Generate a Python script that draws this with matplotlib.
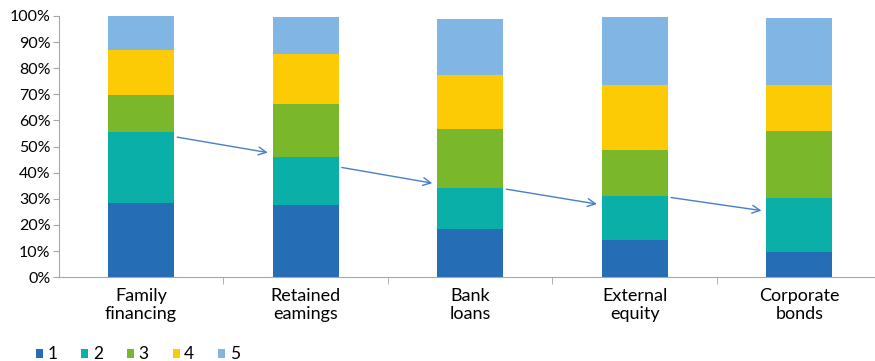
import matplotlib.pyplot as plt
import numpy as np

plt.rcParams['font.family'] = ['Lato', 'DejaVu Sans']

categories = ['Family\nfinancing', 'Retained\neamings', 'Bank\nloans', 'External\nequity', 'Corporate\nbonds']
series_names = ['1', '2', '3', '4', '5']
# share of each rank (%) per financing source
rank1 = [28.4, 27.7, 18.5, 14.3, 9.7]
rank2 = [27.2, 18.3, 15.7, 16.8, 20.6]
rank3 = [14.2, 20.3, 22.6, 17.6, 25.7]
rank4 = [17.2, 19.3, 20.6, 24.9, 17.6]
rank5 = [13.0, 14.0, 21.5, 26.0, 25.6]
colors = ['#256db4', '#0aafa7', '#7ab72a', '#fdcb05', '#81b5e3']

# arrows: (start value, end value) in %, drawn between neighbouring bars
arrow_levels = [(53.6, 47.7), (42.0, 36.0), (33.7, 28.0), (30.5, 25.5)]

fig = plt.figure(figsize=(8.75, 3.61), dpi=100)
ax = fig.add_axes([0.0671, 0.232, 0.933, 0.724])

x = np.arange(len(categories))
width = 0.40
bottom = np.zeros(len(categories))
for name, vals, c in zip(series_names, [rank1, rank2, rank3, rank4, rank5], colors):
    ax.bar(x, vals, width, bottom=bottom, color=c, label=name)
    bottom += np.array(vals)

for i, (y0, y1) in enumerate(arrow_levels):
    ax.annotate('', xy=(i + 1 - width / 2 - 0.03, y1), xytext=(i + width / 2 + 0.02, y0),
                arrowprops=dict(arrowstyle='->', color='#4a7ec7', lw=1.0,
                                mutation_scale=14, shrinkA=0, shrinkB=0))

ax.set_xlim(-0.5, 4.46)
ax.set_ylim(0, 100)
ax.set_yticks(np.arange(0, 101, 10))
ax.set_yticklabels([f'{v}%' for v in range(0, 101, 10)], fontsize=11.5)
ax.set_xticks(x)
ax.set_xticklabels(categories, fontsize=13, linespacing=1.1)
ax.set_xticks(np.arange(0.5, 4, 1), minor=True)
ax.tick_params(axis='x', which='major', length=0, pad=8)
ax.tick_params(axis='x', which='minor', length=5, color='#a6a6a6')
ax.tick_params(axis='y', length=4, color='#a6a6a6', pad=2)
for s in ['top', 'right']:
    ax.spines[s].set_visible(False)
for s in ['left', 'bottom']:
    ax.spines[s].set_color('#a6a6a6')

fig.legend(loc='lower left', bbox_to_anchor=(0.041, -0.004), ncol=5, frameon=False,
           fontsize=12.5, handlelength=0.4, handleheight=0.4, handletextpad=0.25,
           columnspacing=1.4, borderpad=0, borderaxespad=0)

fig.savefig('out.png', dpi=100)
